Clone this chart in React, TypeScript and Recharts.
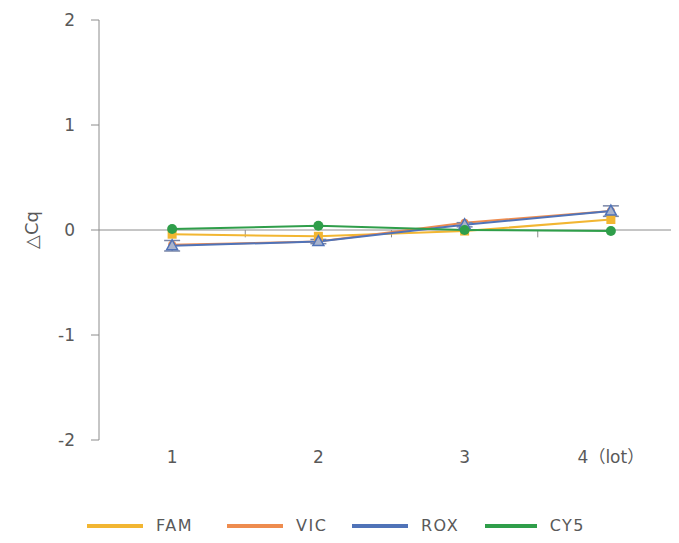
import React from 'react';
import { LineChart, Line, XAxis, YAxis, ReferenceLine, Legend, ErrorBar } from 'recharts';

// lot categories on the x axis
const lotIndex = [1, 2, 3, 4];
const lotLabels = ['1', '2', '3', '4（lot）'];
const yTicks = [-2, -1, 0, 1, 2];
const boundaryTicks = [1.5, 2.5, 3.5];

// ΔCq per dye
const famValues = [-0.04, -0.06, -0.01, 0.1];
const vicValues = [-0.14, -0.11, 0.07, 0.18];
const roxValues = [-0.15, -0.11, 0.05, 0.18];
const cy5Values = [0.01, 0.04, 0.0, -0.01];
const roxErrors = [0.05, 0.02, 0.02, 0.05];

const seriesNames = ['FAM', 'VIC', 'ROX', 'CY5'];
const seriesColors = ['#f2b632', '#ee8c4f', '#5073b8', '#2f9e4a'];

const chartData = lotIndex.map((lot, i) => ({
  lot,
  FAM: famValues[i],
  VIC: vicValues[i],
  ROX: roxValues[i],
  CY5: cy5Values[i],
  roxErr: roxErrors[i],
}));

const axisColor = '#8c8c8c';
const textColor = '#595959';
const font = '"DejaVu Sans", "Noto Sans CJK JP", sans-serif';
const legendItemWidths = [140, 125, 133, 100];

const SquareDot = (props: any) => {
  const { cx, cy, index } = props;
  return <rect key={`sq-${index}`} x={cx - 4.5} y={cy - 4.5} width={9} height={9} fill={seriesColors[0]} />;
};

const CircleDot = (color: string, r: number) => (props: any) => {
  const { cx, cy, index } = props;
  return <circle key={`c-${color}-${index}`} cx={cx} cy={cy} r={r} fill={color} />;
};

const TriangleDot = (props: any) => {
  const { cx, cy, index } = props;
  return (
    <path
      key={`tr-${index}`}
      d={`M${cx},${cy - 6} L${cx + 5.5},${cy + 4} L${cx - 5.5},${cy + 4} Z`}
      fill="#a9b3cc"
      stroke={seriesColors[2]}
      strokeWidth={1.5}
    />
  );
};

const LegendContent = () => (
  <div style={{ display: 'flex', alignItems: 'center', paddingLeft: 79, paddingTop: 4, fontFamily: font, fontSize: 16, color: textColor, letterSpacing: 1.5 }}>
    {seriesNames.map((name, i) => (
      <div key={name} style={{ display: 'flex', alignItems: 'center', width: legendItemWidths[i] }}>
        <div style={{ width: 56, height: 4, background: seriesColors[i], marginRight: 13 }} />
        <span>{name}</span>
      </div>
    ))}
  </div>
);

const App = () => {
  return (
    <div style={{ width: 671, height: 526, overflow: 'hidden' }}>
      <style>{'html, body { overflow: hidden; }'}</style>
      <LineChart width={671} height={526} data={chartData} margin={{ top: 12, right: -5, left: 0, bottom: 0 }}>
        <XAxis
          dataKey="lot"
          type="number"
          domain={[0.5, 4.5]}
          ticks={lotIndex}
          tickFormatter={(v: number) => lotLabels[lotIndex.indexOf(v)]}
          axisLine={false}
          tickLine={false}
          tickMargin={5}
          height={72}
          tick={{ fill: textColor, fontSize: 17, fontFamily: font }}
        />
        <YAxis
          type="number"
          domain={[-2, 2]}
          ticks={yTicks}
          width={91}
          stroke={axisColor}
          tickSize={8}
          tickMargin={16}
          tick={{ fill: textColor, fontSize: 17, fontFamily: font }}
          label={{ value: '△Cq', angle: -90, position: 'center', dx: -22, fill: textColor, fontSize: 18, fontFamily: font }}
        />
        <ReferenceLine y={0} stroke={axisColor} strokeWidth={1} />
        {boundaryTicks.map((b) => (
          <ReferenceLine
            key={b}
            segment={[{ x: b, y: 0 }, { x: b, y: -0.07 }]}
            stroke={axisColor}
          />
        ))}
        <Line dataKey="FAM" stroke={seriesColors[0]} strokeWidth={2} dot={SquareDot} isAnimationActive={false} />
        <Line dataKey="VIC" stroke={seriesColors[1]} strokeWidth={2} dot={CircleDot(seriesColors[1], 4)} isAnimationActive={false} />
        <Line dataKey="ROX" stroke={seriesColors[2]} strokeWidth={2} dot={TriangleDot} isAnimationActive={false}>
          <ErrorBar dataKey="roxErr" width={8} stroke="#7a86a6" strokeWidth={1.5} direction="y" />
        </Line>
        <Line dataKey="CY5" stroke={seriesColors[3]} strokeWidth={2} dot={CircleDot(seriesColors[3], 5)} isAnimationActive={false} />
        <Legend verticalAlign="bottom" height={22} wrapperStyle={{ left: 0, width: 671 }} content={LegendContent} />
      </LineChart>
    </div>
  );
};

export default App;
